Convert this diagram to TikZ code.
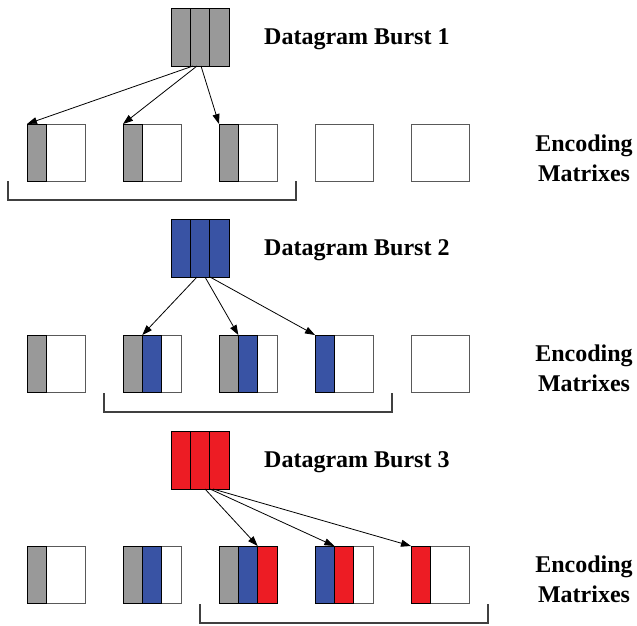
\documentclass[tikz,border=0pt]{standalone}
\usepackage{fontspec}
\setmainfont{Liberation Serif}
\usetikzlibrary{arrows.meta,calc}
\definecolor{sgray}{RGB}{153,153,153}
\definecolor{sblue}{RGB}{57,83,164}
\definecolor{sred}{RGB}{237,28,36}
\begin{document}
\begin{tikzpicture}[x=1pt,y=-1pt,
 strip/.style={draw=black, line width=1pt, minimum width=19.33pt, minimum height=57pt, inner sep=0pt, anchor=north west, outer sep=0pt},
 bstrip/.style={strip, minimum height=58pt},
 mat/.style={draw=black!65, line width=1pt, minimum width=58pt, minimum height=57pt, inner sep=0pt, anchor=north west, outer sep=0pt, fill=white},
 arr/.style={-{Triangle[length=10pt,width=7pt]}, line width=0.8pt},
 lbl/.style={font=\fontsize{24}{30}\selectfont\bfseries, align=center, inner sep=0pt},
 brk/.style={line width=1.2pt, draw=black!75}]
\useasboundingbox (0,0) rectangle (637,625);

% ---------- Burst 1 ----------
\node[bstrip, fill=sgray] (b1a) at (171,8) {};
\node[bstrip, fill=sgray] (b1b) at (190.33,8) {};
\node[bstrip, fill=sgray] (b1c) at (209.67,8) {};
\node[lbl, anchor=west] (t1) at (264,39) {Datagram Burst 1};

\node[mat] (m11) at (27,124) {};
\node[mat] (m12) at (123,124) {};
\node[mat] (m13) at (219,124) {};
\node[mat] (m14) at (315,124) {};
\node[mat] (m15) at (411,124) {};
\node[strip, fill=sgray] (s11a) at (27,124) {};
\node[strip, fill=sgray] (s12a) at (123,124) {};
\node[strip, fill=sgray] (s13a) at (219,124) {};
\node[lbl] (e1) at (584,158) {Encoding\\Matrixes};

\coordinate (o11) at (193,66);
\coordinate (o12) at (197,66);
\coordinate (o13) at (201,66);
\draw[arr] (o11) -- (s11a.north west);
\draw[arr] (o12) -- (s12a.north west);
\draw[arr] (o13) -- (s13a.north west);

\coordinate (k1a) at (8,181);
\coordinate (k1b) at (296,181);
\draw[brk] (k1a) -- ++(0,19) -| (k1b);

% ---------- Burst 2 ----------
\node[bstrip, fill=sblue] (b2a) at (171,219) {};
\node[bstrip, fill=sblue] (b2b) at (190.33,219) {};
\node[bstrip, fill=sblue] (b2c) at (209.67,219) {};
\node[lbl, anchor=west] (t2) at (264,250) {Datagram Burst 2};

\node[mat] (m21) at (27,335) {};
\node[mat] (m22) at (123,335) {};
\node[mat] (m23) at (219,335) {};
\node[mat] (m24) at (315,335) {};
\node[mat] (m25) at (411,335) {};
\node[strip, fill=sgray] (s21a) at (27,335) {};
\node[strip, fill=sgray] (s22a) at (123,335) {};
\node[strip, fill=sblue] (s22b) at (142.33,335) {};
\node[strip, fill=sgray] (s23a) at (219,335) {};
\node[strip, fill=sblue] (s23b) at (238.33,335) {};
\node[strip, fill=sblue] (s24a) at (315,335) {};
\node[lbl] (e2) at (584,368) {Encoding\\Matrixes};

\coordinate (o21) at (197,277);
\coordinate (o22) at (205,277);
\coordinate (o23) at (210,277);
\draw[arr] (o21) -- (s22b.north west);
\draw[arr] (o22) -- (s23b.north west);
\draw[arr] (o23) -- (s24a.north west);

\coordinate (k2a) at (104,393);
\coordinate (k2b) at (392,393);
\draw[brk] (k2a) -- ++(0,19) -| (k2b);

% ---------- Burst 3 ----------
\node[bstrip, fill=sred] (b3a) at (171,431) {};
\node[bstrip, fill=sred] (b3b) at (190.33,431) {};
\node[bstrip, fill=sred] (b3c) at (209.67,431) {};
\node[lbl, anchor=west] (t3) at (264,462) {Datagram Burst 3};

\node[mat] (m31) at (27,546) {};
\node[mat] (m32) at (123,546) {};
\node[mat] (m33) at (219,546) {};
\node[mat] (m34) at (315,546) {};
\node[mat] (m35) at (411,546) {};
\node[strip, fill=sgray] (s31a) at (27,546) {};
\node[strip, fill=sgray] (s32a) at (123,546) {};
\node[strip, fill=sblue] (s32b) at (142.33,546) {};
\node[strip, fill=sgray] (s33a) at (219,546) {};
\node[strip, fill=sblue] (s33b) at (238.33,546) {};
\node[strip, fill=sred] (s33c) at (257.67,546) {};
\node[strip, fill=sblue] (s34a) at (315,546) {};
\node[strip, fill=sred] (s34b) at (334.33,546) {};
\node[strip, fill=sred] (s35a) at (411,546) {};
\node[lbl] (e3) at (584,579) {Encoding\\Matrixes};

\coordinate (o31) at (205,489);
\coordinate (o32) at (210,489);
\coordinate (o33) at (213,489);
\draw[arr] (o31) -- (s33c.north west);
\draw[arr] (o32) -- (s34b.north west);
\draw[arr] (o33) -- (s35a.north west);

\coordinate (k3a) at (200,604);
\coordinate (k3b) at (488,604);
\draw[brk] (k3a) -- ++(0,19) -| (k3b);
\end{tikzpicture}
\end{document}
